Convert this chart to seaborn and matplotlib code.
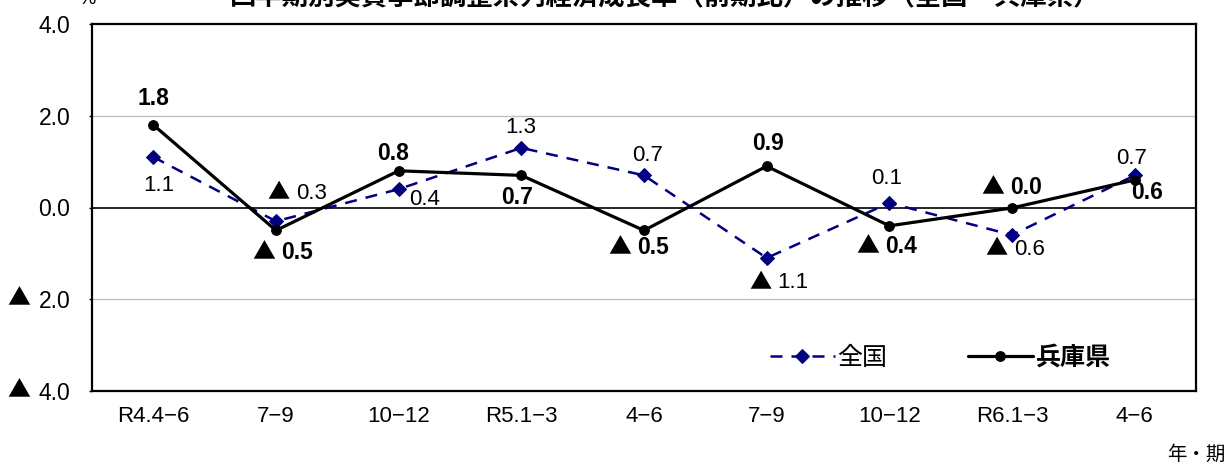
import numpy as np
import pandas as pd
import seaborn as sns
from matplotlib import pyplot as plt

periods = ["R4.4−6", "7−9", "10−12", "R5.1−3", "4−6", "7−9", "10−12", "R6.1−3", "4−6"]
zenkoku = [1.1, -0.3, 0.4, 1.3, 0.7, -1.1, 0.1, -0.6, 0.7]
hyogo = [1.8, -0.5, 0.8, 0.7, -0.5, 0.9, -0.4, -0.01, 0.6]
zenkoku_text = ["1.1", "▲ 0.3", "0.4", "1.3", "0.7", "▲ 1.1", "0.1", "▲ 0.6", "0.7"]
hyogo_text = ["1.8", "▲ 0.5", "0.8", "0.7", "▲ 0.5", "0.9", "▲ 0.4", "▲ 0.0", "0.6"]
ytick_vals = [4, 2, 0, -2, -4]
ytick_text = ["4.0", "2.0", "0.0", "▲ 2.0", "▲ 4.0"]

# label offsets in pixels (dx, dy)
z_off = [(5, -28), (21, 28), (26, -10), (-1, 20), (4, 20), (12, -25), (-3, 24), (3, -14), (-3, 17)]
h_off = [(0, 26), (6, -22), (-6, 17), (-4, -22), (-6, -17), (1, 23), (-3, -21), (-1, 20), (12, -13)]

sns.set_style("white")
plt.rcParams['font.family'] = ['Liberation Sans', 'Noto Sans CJK JP', 'DejaVu Sans']
plt.rcParams['text.color'] = 'black'
plt.rcParams['xtick.color'] = 'black'
plt.rcParams['ytick.color'] = 'black'
CJK = ['Noto Sans CJK JP', 'DejaVu Sans']

df = pd.DataFrame({"pos": np.arange(len(periods)), "全国": zenkoku, "兵庫県": hyogo})

fig = plt.figure(figsize=(12.31, 4.68), dpi=100)
ax = fig.add_axes([92 / 1231, 77 / 468, 1104 / 1231, 367 / 468])

ax.axhline(2, color="#c0c0c0", lw=1, zorder=0)
ax.axhline(-2, color="#c0c0c0", lw=1, zorder=0)
ax.axhline(0, color="black", lw=1.2, zorder=1)

sns.lineplot(data=df, x="pos", y="全国", ax=ax, color="#000080", lw=1.8,
             marker="D", markersize=7, markeredgecolor="#000080",
             label="全国", zorder=3)
ax.lines[-1].set_dashes([4.8, 3.6])
sns.lineplot(data=df, x="pos", y="兵庫県", ax=ax, color="black", lw=2.3,
             marker="o", markersize=7, markeredgecolor="black",
             label="兵庫県", zorder=4)


def put_label(x, y, text, dx, dy, size, weight):
    # ▲ drawn in the CJK font so it is full size, the number in the Arial-like font
    if text.startswith("▲"):
        num = text[1:].strip()
        ax.annotate("▲", (x, y), xytext=(dx - 7, dy), textcoords="offset pixels",
                    ha="right", va="center", fontsize=size, family=CJK)
        ax.annotate(num, (x, y), xytext=(dx - 1, dy), textcoords="offset pixels",
                    ha="left", va="center", fontsize=size, fontweight=weight)
    else:
        ax.annotate(text, (x, y), xytext=(dx, dy), textcoords="offset pixels",
                    ha="center", va="center", fontsize=size, fontweight=weight)


for i, (v, t) in enumerate(zip(zenkoku, zenkoku_text)):
    put_label(i, v, t, z_off[i][0], z_off[i][1], 16, "normal")
for i, (v, t) in enumerate(zip(hyogo, hyogo_text)):
    put_label(i, v, t, h_off[i][0], h_off[i][1], 16.5, "bold")

ax.set_xlim(-0.5, len(periods) - 0.5)
ax.set_ylim(-4, 4)
ax.set_xticks(np.arange(len(periods)))
ax.set_xticklabels(periods, fontsize=16)
ax.set_xticks(np.arange(len(periods) + 1) - 0.5, minor=True)
ax.tick_params(axis="x", which="major", length=0, pad=11)
ax.tick_params(axis="x", which="minor", direction="in", length=4.5, width=1, color="black")
ax.set_yticks(ytick_vals)
ax.set_yticklabels([t.replace("▲", "").strip() for t in ytick_text], fontsize=16.5)
ax.tick_params(axis="y", direction="out", length=2.5, width=1, color="black", pad=13, left=True)
for v, t in zip(ytick_vals, ytick_text):
    if t.startswith("▲"):
        ax.annotate("▲", (0, v), xycoords=("axes fraction", "data"), xytext=(-62, 0),
                    textcoords="offset pixels", ha="right", va="center", fontsize=16.5, family=CJK)
ax.set_xlabel("")
ax.set_ylabel("")
for s in ax.spines.values():
    s.set_color("black")
    s.set_linewidth(1.6)

leg = ax.legend(loc="center", bbox_to_anchor=((940 - 92) / 1104, (391 - 358) / 367), ncol=2,
                frameon=False, fontsize=18, handlelength=2.6, handletextpad=0.12,
                columnspacing=3.2)
leg.get_texts()[1].set_fontweight("bold")

fig.text(78 / 1231, 1 - 8 / 468, "%", fontsize=14, ha="left", va="bottom")
fig.text(665 / 1231, 1 - 10 / 468, "四半期別実質季節調整系列経済成長率（前期比）の推移（全国・兵庫県）",
         fontsize=19, fontweight="bold", ha="center", va="bottom")
fig.text(1225 / 1231, 1 - 455 / 468, "年・期", fontsize=14, ha="right", va="center")

fig.savefig("out.png", dpi=100, facecolor="white")
